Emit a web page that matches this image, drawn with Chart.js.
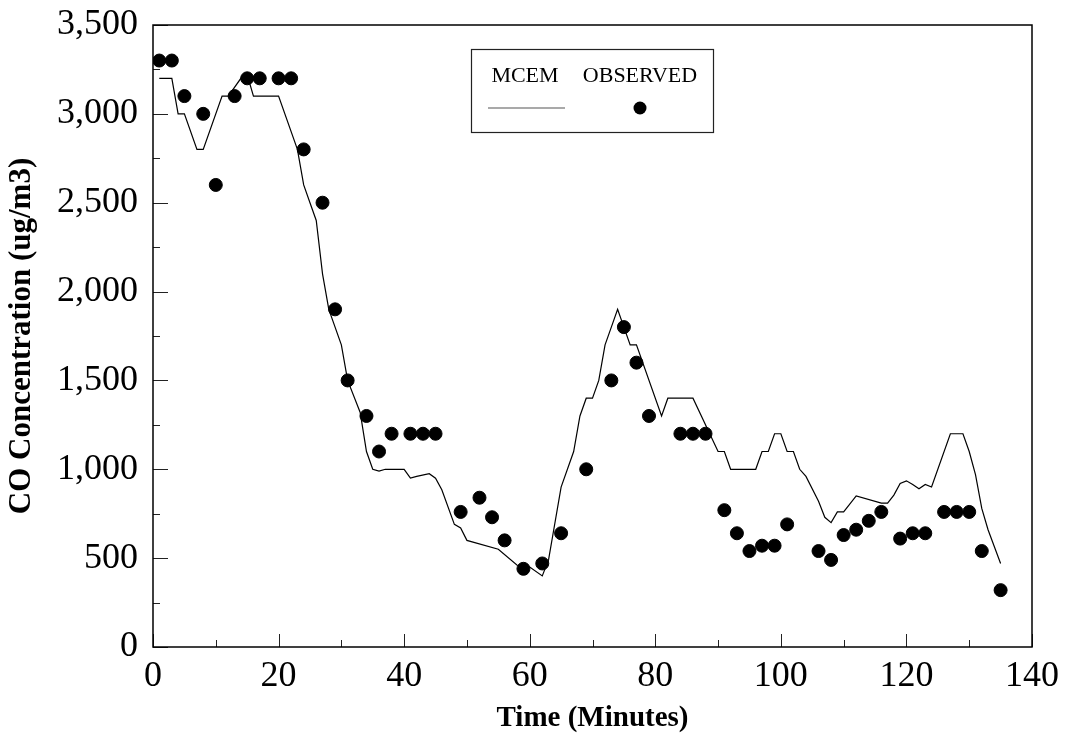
<!DOCTYPE html>
<html>
<head>
<meta charset="utf-8">
<title>CO Concentration</title>
<script src="https://cdn.jsdelivr.net/npm/chart.js@4.4.1/dist/chart.umd.min.js"></script>
<style>
  html, body { margin: 0; padding: 0; background: #fff; }
  #wrap { width: 1070px; height: 740px; }
</style>
</head>
<body>
<div id="wrap"><canvas id="chart"></canvas></div>
<script>
// MCEM model output (line)
const mcemTime = [1, 3, 4, 5, 7, 8, 11, 12, 14, 15, 16, 20, 23, 24, 25, 26, 27, 28, 30, 31,
  33, 34, 35, 36, 37, 40, 41, 42, 44, 45, 46, 48, 49, 50, 55, 58, 60, 62, 63, 65,
  67, 68, 69, 70, 71, 72, 73, 74, 76, 77, 81, 82, 86, 90, 91, 92, 96, 97, 98, 99,
  100, 101, 102, 103, 104, 106, 107, 108, 109, 110, 112, 116, 117, 118, 119, 120, 121, 122, 123, 124,
  127, 129, 130, 131, 132, 133, 135];
const mcemValues = [3200, 3200, 3000, 3000, 2800, 2800, 3100, 3100, 3200, 3220, 3100, 3100, 2800, 2600, 2500, 2400, 2100, 1900, 1700, 1500,
  1320, 1100, 1000, 990, 1000, 1000, 950, 960, 975, 950, 885, 690, 670, 600, 550, 460, 450, 400, 490, 900,
  1100, 1300, 1400, 1400, 1500, 1700, 1800, 1900, 1700, 1700, 1300, 1400, 1400, 1100, 1100, 1000, 1000, 1100, 1100, 1200,
  1200, 1100, 1100, 1000, 960, 820, 730, 700, 760, 760, 850, 810, 810, 855, 920, 935, 915, 890, 915, 900,
  1200, 1200, 1100, 970, 780, 660, 470];

// observed concentrations (dots)
const obsTime = [1, 3, 5, 8, 10, 13, 15, 17, 20, 22, 24, 27, 29, 31, 34, 36, 38, 41, 43, 45,
  49, 52, 54, 56, 59, 62, 65, 69, 73, 75, 77, 79, 84, 86, 88, 91, 93, 95, 97, 99,
  101, 106, 108, 110, 112, 114, 116, 119, 121, 123, 126, 128, 130, 132, 135];
const obsValues = [3300, 3300, 3100, 3000, 2600, 3100, 3200, 3200, 3200, 3200, 2800, 2500, 1900, 1500, 1300, 1100, 1200, 1200, 1200, 1200,
  760, 840, 730, 600, 440, 470, 640, 1000, 1500, 1800, 1600, 1300, 1200, 1200, 1200, 770, 640, 540, 570, 570,
  690, 540, 490, 630, 660, 710, 760, 610, 640, 640, 760, 760, 760, 540, 320];

const xTicks = [0, 20, 40, 60, 80, 100, 120, 140];
const yTicks = [0, 500, 1000, 1500, 2000, 2500, 3000, 3500];

const SERIF = "'Liberation Serif', 'Times New Roman', serif";

// box round the plot, inward tick marks on left and bottom
const frameTicks = {
  id: "frameTicks",
  afterDatasetsDraw(chart) {
    const { ctx, chartArea: a, scales } = chart;
    ctx.save();
    ctx.strokeStyle = "#222";
    ctx.lineWidth = 1;
    for (let v = 0; v <= 3500; v += 250) {
      const y = Math.round(scales.y.getPixelForValue(v)) + 0.5;
      const len = v % 500 === 0 ? 15 : 7;
      ctx.beginPath();
      ctx.moveTo(a.left, y);
      ctx.lineTo(a.left + len, y);
      ctx.stroke();
    }
    for (let v = 0; v <= 140; v += 10) {
      const x = Math.round(scales.x.getPixelForValue(v)) + 0.5;
      const len = v % 20 === 0 ? 13 : 7;
      ctx.beginPath();
      ctx.moveTo(x, a.bottom);
      ctx.lineTo(x, a.bottom - len);
      ctx.stroke();
    }
    ctx.strokeStyle = "#000";
    ctx.lineWidth = 1.5;
    ctx.strokeRect(a.left, a.top, a.right - a.left, a.bottom - a.top);
    ctx.restore();
  }
};

// legend box in the style of the original
const boxLegend = {
  id: "boxLegend",
  afterDraw(chart) {
    const { ctx } = chart;
    const line = chart.data.datasets[1];
    const obs = chart.data.datasets[0];
    ctx.save();
    ctx.strokeStyle = "#222";
    ctx.lineWidth = 1.2;
    ctx.strokeRect(471.5, 49.5, 242, 83);
    ctx.fillStyle = "#000";
    ctx.font = "22px " + SERIF;
    ctx.textBaseline = "alphabetic";
    ctx.textAlign = "center";
    ctx.fillText(line.label, 525, 82);
    ctx.fillText(obs.label, 640, 82);
    ctx.strokeStyle = "#555";
    ctx.lineWidth = line.borderWidth;
    ctx.beginPath();
    ctx.moveTo(488, 108);
    ctx.lineTo(565, 108);
    ctx.stroke();
    ctx.fillStyle = obs.backgroundColor;
    ctx.beginPath();
    ctx.arc(640, 108, obs.pointRadius, 0, Math.PI * 2);
    ctx.fill();
    ctx.restore();
  }
};

new Chart(document.getElementById("chart"), {
  type: "scatter",
  data: {
    datasets: [
      {
        label: "OBSERVED",
        data: obsTime.map((t, i) => ({ x: t, y: obsValues[i] })),
        backgroundColor: "#000",
        borderColor: "#000",
        pointRadius: 6.5,
        pointHoverRadius: 6.5,
        order: 0,
      },
      {
        label: "MCEM",
        type: "line",
        data: mcemTime.map((t, i) => ({ x: t, y: mcemValues[i] })),
        borderColor: "#000",
        borderWidth: 1.2,
        pointRadius: 0,
        tension: 0,
        fill: false,
        order: 1,
      },
    ],
  },
  options: {
    responsive: true,
    maintainAspectRatio: false,
    animation: false,
    layout: { padding: { top: 10, right: 38, left: 0, bottom: 0 } },
    plugins: { legend: { display: false }, tooltip: { enabled: false } },
    scales: {
      x: {
        type: "linear",
        min: 0,
        max: 140,
        afterBuildTicks: (s) => { s.ticks = xTicks.map((v) => ({ value: v })); },
        afterFit: (s) => { s.height = 93; },
        grid: { display: false },
        border: { display: false },
        ticks: { color: "#000", padding: 0, maxRotation: 0, autoSkip: false, font: { family: SERIF, size: 36 } },
        title: {
          display: true,
          text: "Time (Minutes)",
          color: "#000",
          padding: { top: 0, bottom: 4 },
          font: { family: SERIF, size: 29, weight: "bold" },
        },
      },
      y: {
        min: 0,
        max: 3500,
        afterBuildTicks: (s) => { s.ticks = yTicks.map((v) => ({ value: v })); },
        afterFit: (s) => { s.width = 153; },
        grid: { display: false },
        border: { display: false },
        ticks: {
          color: "#000",
          padding: 7,
          autoSkip: false,
          font: { family: SERIF, size: 36, lineHeight: 1 },
          callback: (v) => Number(v).toLocaleString("en-US"),
        },
        title: {
          display: true,
          text: "CO Concentration (ug/m3)",
          color: "#000",
          padding: { top: 3, bottom: 0 },
          font: { family: SERIF, size: 31, weight: "bold" },
        },
      },
    },
  },
  plugins: [frameTicks, boxLegend],
});
</script>
</body>
</html>
